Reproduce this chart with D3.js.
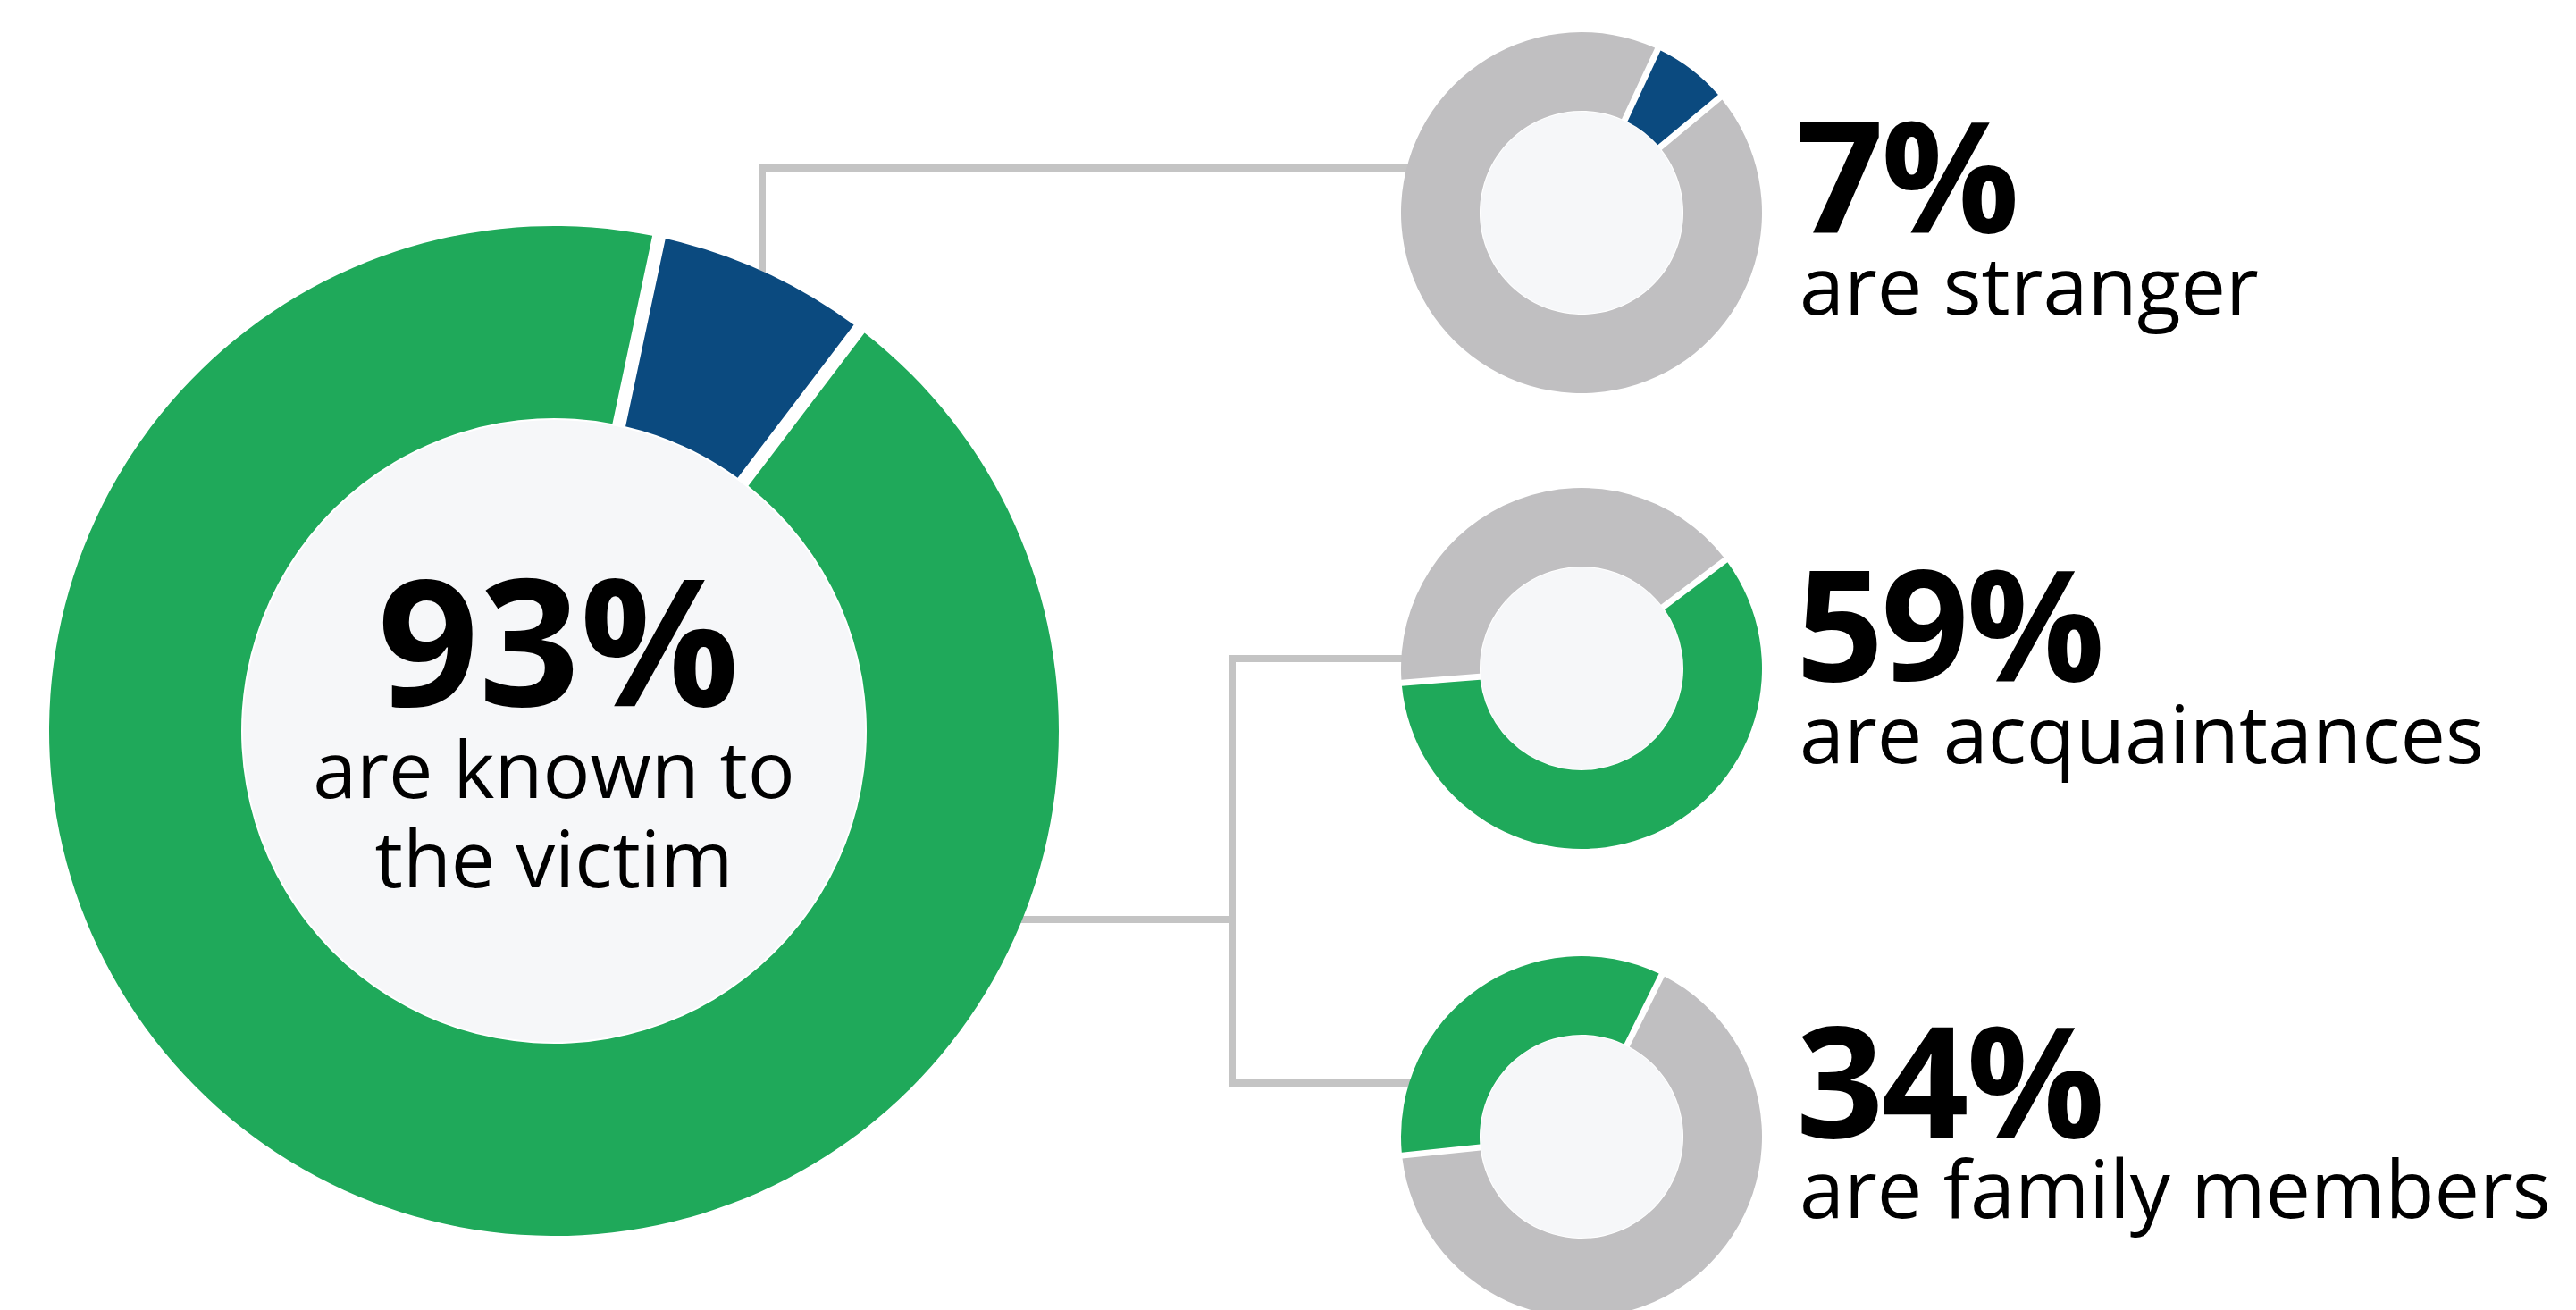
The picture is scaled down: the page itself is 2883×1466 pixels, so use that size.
<!DOCTYPE html>
<html>
<head>
<meta charset="utf-8">
<script src="https://cdn.jsdelivr.net/npm/d3@7/dist/d3.min.js"></script>
<style>
  html, body { margin: 0; padding: 0; background: #ffffff; }
  svg { display: block; }
  text { font-family: "Open Sans", "Noto Sans", sans-serif; fill: #000; }
</style>
</head>
<body>
<svg id="chart" width="2883" height="1466"></svg>
<script>
// ---------------- data ----------------
const mainCategories = ["Stranger", "Known to the victim"];
const mainValues = [7, 93];
const mainLabelValue = 93;
const mainLabelLines = ["are known to", "the victim"];

const breakdownCategories = ["Stranger", "Acquaintances", "Family members"];
const breakdownValues = [7, 59, 34];
const breakdownLabels = ["are stranger", "are acquaintances", "are family members"];

// ---------------- styles / layout ----------------
const COLORS = { green: "#1fa95a", blue: "#0b4a7f", grey: "#c0bfc1", hole: "#f6f7f9", line: "#c4c4c4" };
const highlightColors = [COLORS.blue, COLORS.green, COLORS.green];

const W = 2883, H = 1466;
const svg = d3.select("#chart");
const deg = Math.PI / 180;

const big = { cx: 620, cy: 818, r0: 350, r1: 565, start: 12 };
const smalls = [
  { cx: 1770, cy: 238,  start: 25,  labelY: 260,  subY: 352 },
  { cx: 1770, cy: 748,  start: 53,  labelY: 762,  subY: 854 },
  { cx: 1770, cy: 1272, start: -96, labelY: 1273, subY: 1363 }
];
const smallR0 = 114, smallR1 = 202;
const labelX = 2010;

// ---------------- connectors ----------------
const lineG = svg.append("g")
  .attr("fill", "none")
  .attr("stroke", COLORS.line)
  .attr("stroke-width", 8);

const x1 = 853;
const yBigTopAtX1 = big.cy - Math.sqrt(big.r1 * big.r1 - (x1 - big.cx) ** 2);
const yTop = 188;
const leftEdge = (s, y) => s.cx - Math.sqrt(smallR1 * smallR1 - (y - s.cy) ** 2);
lineG.append("path")
  .attr("d", `M${x1},${yBigTopAtX1 + 4}V${yTop}H${leftEdge(smalls[0], yTop) + 4}`);

const xBranch = 1379, yMid = 1029, yB1 = 737, yB2 = 1212;
const xBigRightAtMid = big.cx + Math.sqrt(big.r1 * big.r1 - (yMid - big.cy) ** 2);
lineG.append("path")
  .attr("d", `M${xBigRightAtMid - 4},${yMid}H${xBranch}`);
lineG.append("path")
  .attr("d", `M${leftEdge(smalls[1], yB1) + 4},${yB1}H${xBranch}V${yB2}H${leftEdge(smalls[2], yB2) + 4}`);

// ---------------- big donut ----------------
const bigPie = d3.pie().sort(null)
  .startAngle(big.start * deg)
  .endAngle(big.start * deg + 2 * Math.PI);
const bigArc = d3.arc()
  .innerRadius(big.r0).outerRadius(big.r1)
  .padRadius(big.r1).padAngle(15 / big.r1);

const bigG = svg.append("g").attr("transform", `translate(${big.cx},${big.cy})`);
bigG.selectAll("path")
  .data(bigPie(mainValues))
  .join("path")
  .attr("d", bigArc)
  .attr("fill", (d, i) => i === 0 ? COLORS.blue : COLORS.green);
bigG.append("circle").attr("r", big.r0 - 2).attr("fill", COLORS.hole);

bigG.append("text")
  .attr("text-anchor", "middle")
  .attr("x", 5).attr("y", 790 - big.cy)
  .attr("font-size", 198).attr("font-weight", 700)
  .text(mainLabelValue + "%");
bigG.selectAll("text.sub")
  .data(mainLabelLines)
  .join("text")
  .attr("class", "sub")
  .attr("text-anchor", "middle")
  .attr("x", 0)
  .attr("y", (d, i) => 893 - big.cy + i * 100)
  .attr("font-size", 88)
  .text(d => d);

// ---------------- small donuts ----------------
const smallArc = d3.arc()
  .innerRadius(smallR0).outerRadius(smallR1)
  .padRadius(smallR1).padAngle(7 / smallR1);

breakdownValues.forEach((v, k) => {
  const s = smalls[k];
  const pie = d3.pie().sort(null)
    .startAngle(s.start * deg)
    .endAngle(s.start * deg + 2 * Math.PI);
  const g = svg.append("g").attr("transform", `translate(${s.cx},${s.cy})`);
  g.selectAll("path")
    .data(pie([v, 100 - v]))
    .join("path")
    .attr("d", smallArc)
    .attr("fill", (d, i) => i === 0 ? highlightColors[k] : COLORS.grey);
  g.append("circle").attr("r", smallR0 - 1).attr("fill", COLORS.hole);

  svg.append("text")
    .attr("x", labelX).attr("y", s.labelY)
    .attr("font-size", 172).attr("font-weight", 700)
    .attr("letter-spacing", -3)
    .text(v + "%");
  svg.append("text")
    .attr("x", labelX + 4).attr("y", s.subY)
    .attr("font-size", 90)
    .text(breakdownLabels[k]);
});
</script>
</body>
</html>
